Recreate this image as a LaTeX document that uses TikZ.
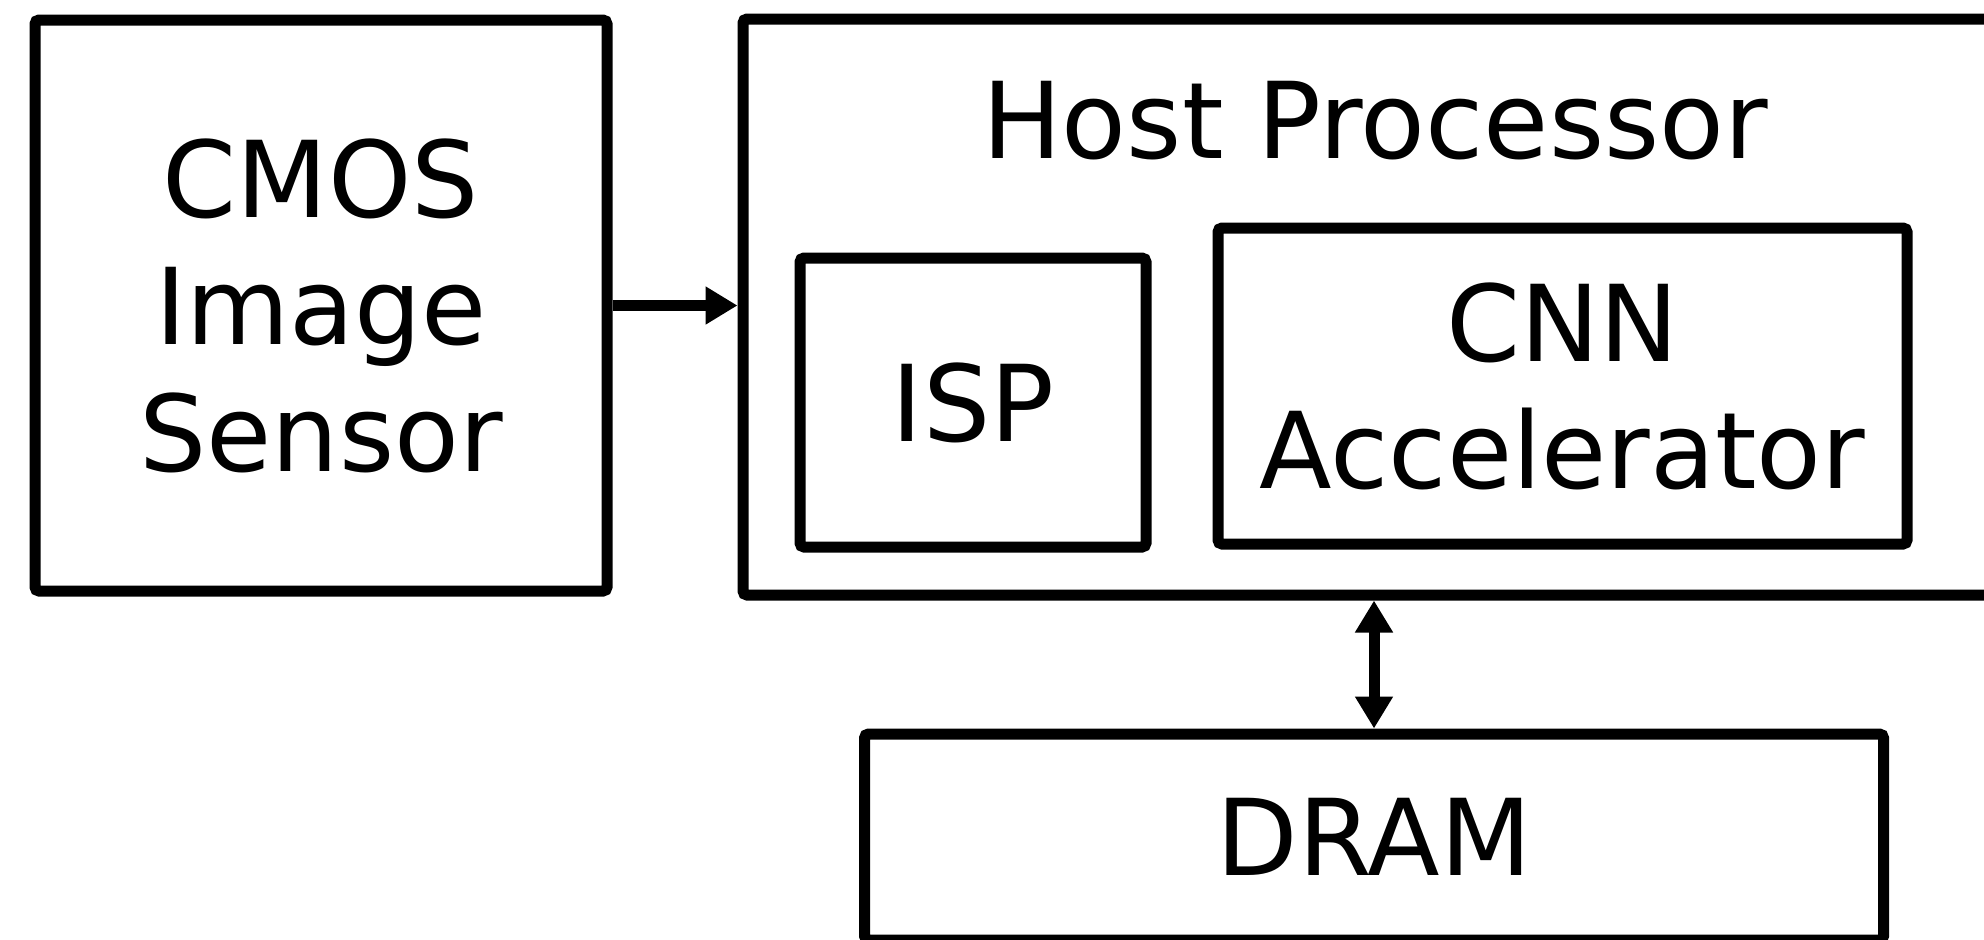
\documentclass[tikz,border=0pt]{standalone}
\usepackage{fontspec}
\setmainfont{DejaVu Sans}
\usetikzlibrary{arrows.meta}
\begin{document}
\begin{tikzpicture}[x=0.5pt,y=-0.5pt,
  box/.style={draw=black, line width=5.5pt, rounded corners=2pt, align=center, inner sep=0pt,
    font=\fontsize{53}{63.5}\selectfont},
  lbl/.style={font=\fontsize{53}{63.5}\selectfont, inner sep=0pt},
  conn/.style={line width=5.5pt, draw=black},
  tip/.style={Triangle[length=16pt,width=18pt]}]
\useasboundingbox (0,0) rectangle (1984,939);
\clip (0,0) rectangle (1984,939);
\node[box, minimum width=286pt, minimum height=285.5pt] (cmos) at (321,305.5) {CMOS\\Image\\Sensor};
\node[box, minimum width=728.5pt, minimum height=288pt] (host) at (1471.5,307) {};
\node[lbl, anchor=base] (hostlabel) at (1375,158) {Host Processor};
\node[box, minimum width=173pt, minimum height=144.5pt] (isp) at (973,402.5) {ISP};
\node[box, minimum width=344.5pt, minimum height=158pt] (cnn) at (1562.5,386) {CNN\\Accelerator};
\node[box, minimum width=509.5pt, minimum height=103pt, text depth=-3pt] (dram) at (1374,837) {DRAM};
\draw[conn, -{Triangle[length=16pt,width=18pt]}] (cmos.east) -- (cmos.east -| host.west);
\draw[conn, {Triangle[length=16pt,width=18pt]}-{Triangle[length=16pt,width=18pt]}] (dram.north) -- (dram.north |- host.south);
\end{tikzpicture}
\end{document}
